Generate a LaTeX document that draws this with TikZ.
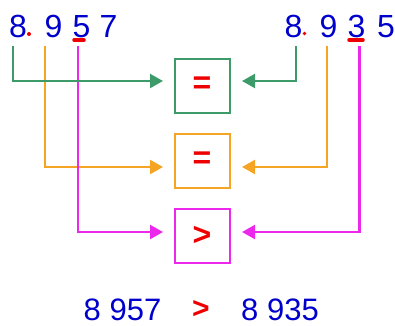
\documentclass[tikz,border=0pt]{standalone}
\usepackage{fontspec}
\setmainfont{Liberation Sans}
\usetikzlibrary{arrows.meta}
\definecolor{dblue}{RGB}{0,0,204}
\definecolor{dred}{RGB}{238,0,0}
\definecolor{lgreen}{RGB}{60,155,105}
\definecolor{lorange}{RGB}{245,165,35}
\definecolor{lmag}{RGB}{235,40,235}
\tikzset{
  digit/.style={text=dblue, font=\fontsize{32}{36}\selectfont, anchor=base, inner sep=0pt},
  res/.style={text=dblue, font=\fontsize{31}{36}\selectfont, anchor=base, inner sep=0pt},
  cmpbox/.style={draw, line width=2pt, minimum width=55pt, minimum height=54pt, inner sep=0pt,
    text=dred, font=\bfseries\fontsize{32}{36}\selectfont},
  conn/.style={line width=2.2pt, -{Triangle[length=13pt,width=14pt]}}
}
\begin{document}
\begin{tikzpicture}[x=1pt,y=-1pt]
\useasboundingbox (0,0) rectangle (395,325);
% top-left number
\node[digit] (a1) at (18,37) {8};
\node[digit] (a2) at (53.5,37) {9};
\node[digit] (a3) at (81.5,37) {5};
\node[digit] (a4) at (108.5,37) {7};
% top-right number
\node[digit] (b1) at (293.5,37) {8};
\node[digit] (b2) at (328.5,37) {9};
\node[digit] (b3) at (356.5,37) {3};
\node[digit] (b4) at (386,37) {5};
% red dots and underlines
\fill[dred] (29,34) circle (2pt);
\fill[dred] (304.5,33.5) circle (1.8pt);
\draw[dred, line width=3.5pt, line cap=round] (74,40) -- (84,40);
\draw[dred, line width=3.5pt, line cap=round] (349,40) -- (363,40);
% boxes
\node[cmpbox, draw=lgreen] (g) at (202,85.5) {=};
\node[cmpbox, draw=lorange] (o) at (202,160.5) {=};
\node[cmpbox, draw=lmag] (m) at (202,236) {>};
% connector coordinates
\coordinate (gl) at (13,46);
\coordinate (ol) at (45,46);
\coordinate (ml) at (78,46);
\coordinate (gr) at (296,46);
\coordinate (or) at (327,46);
\coordinate (mr) at (359.5,46);
\coordinate (glt) at (163,81);
\coordinate (olt) at (163,167);
\coordinate (mlt) at (163,232);
\coordinate (grt) at (242,81);
\coordinate (ort) at (242,167);
\coordinate (mrt) at (242,232);
\draw[conn, lorange] (ol) |- (olt);
\draw[conn, lmag] (ml) |- (mlt);
\draw[conn, lgreen] (gl) |- (glt);
\draw[conn, lgreen] (gr) |- (grt);
\draw[conn, lorange] (or) |- (ort);
\draw[conn, lmag] (mr) |- (mrt);
% result
\node[res] (r1) at (122.5,320) {8 957};
\node[res, text=dred, font=\bfseries\fontsize{30}{36}\selectfont] (r2) at (201,318) {>};
\node[res] (r3) at (280,320) {8 935};
\end{tikzpicture}
\end{document}
